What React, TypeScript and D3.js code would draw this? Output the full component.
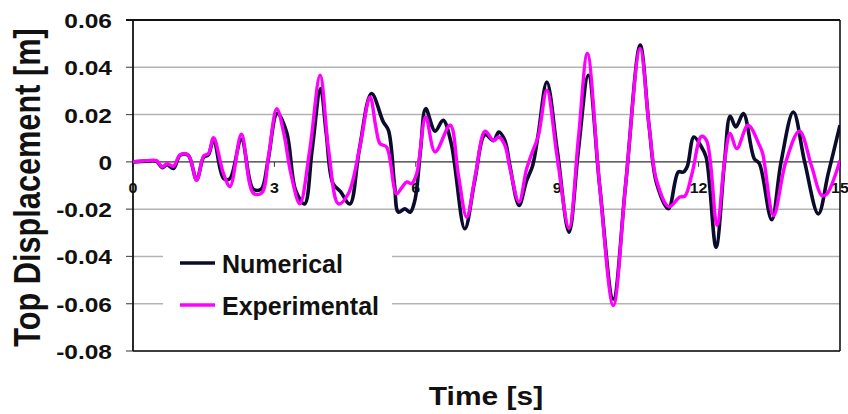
import React from "react";
import * as d3 from "d3";

// Numerical model response: time [s] and top displacement [m]
const numericalTime = [
  0, 0.3, 0.5, 0.62, 0.72, 0.86, 1.0, 1.17, 1.35, 1.5, 1.6, 1.71, 1.92, 2.05, 2.3, 2.55, 2.72, 2.86,
  3.06, 3.26, 3.45, 3.64, 3.8, 3.98, 4.1, 4.24, 4.4, 4.6, 4.8, 5.06, 5.31, 5.42, 5.55, 5.63, 5.77,
  5.88, 5.98, 6.1, 6.21, 6.41, 6.58, 6.75, 7.04, 7.25, 7.47, 7.65, 7.76, 7.89, 8.0, 8.19, 8.35, 8.48,
  8.6, 8.78, 9.0, 9.25, 9.45, 9.66, 9.9, 10.19, 10.45, 10.76, 10.95, 11.11, 11.36, 11.57, 11.68,
  11.76, 11.9, 12.06, 12.16, 12.37, 12.55, 12.67, 12.79, 12.95, 13.18, 13.29, 13.55, 13.75, 14.01,
  14.25, 14.54, 14.75, 15.0,
];
const numericalDisp = [
  0, 0.0003, 0.0002, -0.0025, -0.0012, -0.0028, 0.0028, 0.0028, -0.0075, 0.002, 0.003, 0.0095, -0.007,
  -0.0072, 0.0095, -0.0115, -0.0115, 0.0, 0.0205, 0.0125, -0.012, -0.0178, 0.005, 0.031, 0.012,
  -0.009, -0.0125, -0.0178, 0.005, 0.0289, 0.0169, 0.0133, -0.01, -0.0213, -0.0199, -0.0213, -0.0163,
  0.005, 0.0225, 0.013, 0.0176, 0.008, -0.0283, -0.008, 0.0115, 0.009, 0.0126, 0.009, -0.002, -0.0184,
  -0.008, -0.0015, 0.012, 0.0338, 0.005, -0.0297, 0.005, 0.0366, -0.01, -0.058, -0.01, 0.0494, 0.015,
  -0.0092, -0.0198, -0.0043, -0.0043, -0.002, 0.0105, 0.0063, 0.002, -0.0361, 0.0, 0.0193, 0.0148,
  0.0204, 0.0014, -0.0008, -0.0245, 0.0, 0.0211, 0.0, -0.022, -0.005, 0.0155,
];

// Shake-table measurement: time [s] and top displacement [m]
const experimentalTime = [
  0, 0.3, 0.5, 0.62, 0.72, 0.86, 1.0, 1.17, 1.35, 1.5, 1.6, 1.71, 1.92, 2.06, 2.3, 2.55, 2.73, 2.88,
  3.05, 3.2, 3.35, 3.54, 3.75, 3.97, 4.15, 4.36, 4.57, 4.8, 5.03, 5.15, 5.24, 5.38, 5.59, 5.7, 5.81,
  5.91, 6.02, 6.21, 6.41, 6.73, 6.9, 7.08, 7.27, 7.47, 7.65, 7.76, 7.89, 8.0, 8.19, 8.35, 8.46, 8.6,
  8.78, 9.0, 9.25, 9.45, 9.64, 9.9, 10.19, 10.45, 10.76, 10.95, 11.11, 11.37, 11.6, 11.71, 11.86,
  12.06, 12.17, 12.39, 12.55, 12.67, 12.81, 13.05, 13.29, 13.36, 13.59, 13.85, 14.14, 14.4, 14.61,
  14.71, 15.0,
];
const experimentalDisp = [
  0, 0.0005, 0.0005, -0.0022, -0.0008, -0.0018, 0.003, 0.003, -0.0078, 0.0025, 0.0035, 0.0102, -0.005,
  -0.0104, 0.0117, -0.0132, -0.0132, 0.003, 0.0225, 0.012, -0.005, -0.0177, 0.005, 0.0367, 0.005,
  -0.0178, -0.0134, 0.005, 0.0275, 0.015, 0.0077, 0.0063, -0.0135, -0.011, -0.0085, -0.0092, -0.0049,
  0.019, 0.0042, 0.0155, -0.005, -0.0234, -0.005, 0.013, 0.009, 0.0105, 0.007, -0.003, -0.017, -0.003,
  0.0035, 0.011, 0.0303, 0.002, -0.028, 0.01, 0.0458, -0.01, -0.0608, -0.01, 0.048, 0.015, -0.008,
  -0.019, -0.0149, -0.0145, -0.005, 0.0108, 0.009, -0.0269, 0.0, 0.012, 0.0056, 0.0155, 0.007, 0.0035,
  -0.0227, 0.0, 0.013, -0.002, -0.0142, -0.0138, 0.0006,
];

const yTicks = [0.06, 0.04, 0.02, 0, -0.02, -0.04, -0.06, -0.08];
const yTickLabels = ["0.06", "0.04", "0.02", "0", "-0.02", "-0.04", "-0.06", "-0.08"];
const xTicks = [0, 3, 6, 9, 12, 15];
const seriesNames = ["Numerical", "Experimental"];

const W = 848;
const H = 414;
const plot = { left: 133, right: 840, top: 20, bottom: 351 };
const NAVY = "#0b0b2c";
const MAGENTA = "#ff00ff";
const FONT = "'Liberation Sans', Arial, Helvetica, sans-serif";

export default function App() {
  const x = d3.scaleLinear().domain([0, 15]).range([plot.left, plot.right]);
  const y = d3.scaleLinear().domain([-0.08, 0.06]).range([plot.bottom, plot.top]);

  const line = d3
    .line<[number, number]>()
    .x((d) => x(d[0]))
    .y((d) => y(d[1]))
    .curve(d3.curveCatmullRom.alpha(0.5));

  const numPts = numericalTime.map((t, i) => [t, numericalDisp[i]] as [number, number]);
  const expPts = experimentalTime.map((t, i) => [t, experimentalDisp[i]] as [number, number]);

  const y0 = y(0);

  return (
    <svg
      width={W}
      height={H}
      style={{ position: "absolute", left: 0, top: 0, background: "#fff" }}
      fontFamily={FONT}
    >
      <defs>
        <clipPath id="plotClip">
          <rect x={plot.left} y={plot.top - 4} width={plot.right - plot.left} height={plot.bottom - plot.top + 8} />
        </clipPath>
      </defs>

      {/* horizontal gridlines */}
      {yTicks.map((v) =>
        v === 0 ? null : (
          <line key={`g${v}`} x1={plot.left} x2={plot.right} y1={y(v)} y2={y(v)} stroke="#b3b3b3" strokeWidth={1.5} />
        )
      )}

      {/* y-axis ticks */}
      {yTicks.map((v) => (
        <line key={`t${v}`} x1={plot.left - 7} x2={plot.left} y1={y(v)} y2={y(v)} stroke="#555" strokeWidth={1.2} />
      ))}

      {/* zero line acting as the time axis */}
      <line x1={plot.left} x2={plot.right} y1={y0} y2={y0} stroke="#333" strokeWidth={1.3} />
      {xTicks.map((t) => (
        <line key={`xt${t}`} x1={x(t)} x2={x(t)} y1={y0} y2={y0 + 5} stroke="#333" strokeWidth={1} />
      ))}

      {/* legend background interrupts the gridlines */}
      <rect x={163} y={232} width={229} height={95} fill="#fff" />

      {/* plot frame */}
      <line x1={plot.left - 7} x2={plot.right} y1={plot.top} y2={plot.top} stroke="#111" strokeWidth={2.2} />
      <line x1={plot.left} x2={plot.right} y1={plot.bottom} y2={plot.bottom} stroke="#111" strokeWidth={1.6} />
      <line x1={plot.left} x2={plot.left} y1={plot.top} y2={plot.bottom} stroke="#111" strokeWidth={1.8} />
      <line x1={plot.right} x2={plot.right} y1={plot.top} y2={plot.bottom} stroke="#111" strokeWidth={1.6} />

      {/* x tick labels */}
      {xTicks.map((t) => (
        <text
          key={`xl${t}`}
          transform={`translate(${x(t)},193) scale(1,0.92)`}
          textAnchor="middle"
          fontSize={16}
          fontWeight="bold"
          fill="#111"
        >
          {t}
        </text>
      ))}

      {/* series */}
      <g clipPath="url(#plotClip)">
        <path d={line(numPts) ?? ""} fill="none" stroke={NAVY} strokeWidth={3.6} strokeLinejoin="round" />
        <path d={line(expPts) ?? ""} fill="none" stroke={MAGENTA} strokeWidth={3.4} strokeLinejoin="round" />
      </g>

      {/* y tick labels */}
      {yTicks.map((v, i) => (
        <text
          key={`yl${v}`}
          transform={`translate(112,${y(v) + 8}) scale(1,0.82)`}
          textAnchor="end"
          fontSize={24.5}
          fontWeight="bold"
          fill="#111"
        >
          {yTickLabels[i]}
        </text>
      ))}

      {/* legend */}
      {seriesNames.map((name, i) => {
        const ly = 263 + i * 42;
        return (
          <g key={name}>
            <line x1={180} x2={215} y1={ly} y2={ly} stroke={i === 0 ? NAVY : MAGENTA} strokeWidth={3.6} />
            <text x={222} y={ly + 9.5} fontSize={25} fontWeight="bold" fill="#111">
              {name}
            </text>
          </g>
        );
      })}

      {/* axis titles */}
      <text
        transform="translate(486,405) scale(1.17,1)"
        textAnchor="middle"
        fontSize={25.6}
        fontWeight="bold"
        fill="#111"
      >
        Time [s]
      </text>
      <text
        transform="translate(40,187.5) rotate(-90) scale(1,1.21)"
        textAnchor="middle"
        fontSize={30.7}
        fontWeight="bold"
        fill="#111"
      >
        Top Displacement [m]
      </text>
    </svg>
  );
}
